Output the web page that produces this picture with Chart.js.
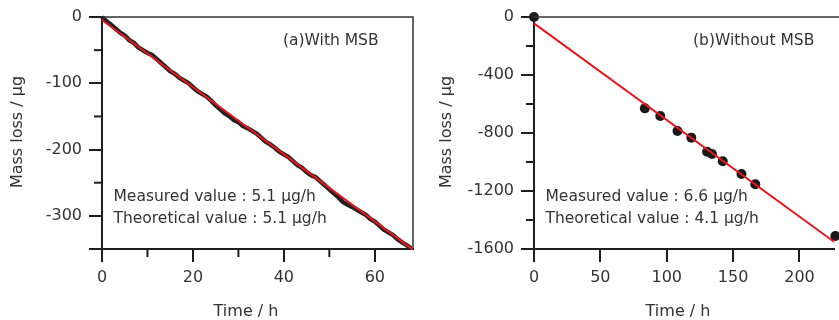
<!DOCTYPE html>
<html><head><meta charset="utf-8">
<script src="https://cdn.jsdelivr.net/npm/chart.js@4/dist/chart.umd.min.js"></script>
<style>
html,body{margin:0;padding:0;background:#fff;overflow:hidden;}
#wrap{position:relative;width:839px;height:320px;}
canvas{position:absolute;top:0;}
#ca{left:0;} #cb{left:420px;}
</style></head><body>
<div id="wrap"><canvas id="ca" width="420" height="320"></canvas><canvas id="cb" width="419" height="320"></canvas></div>
<script>
// ---- Panel (a) With MSB ----
const timeA = [0,1,2,3,4,5,6,7,8,9,10,11,12,13,14,15,16,17,18,19,20,21,22,23,24,25,26,27,28,29,30,31,32,33,34,35,36,37,38,39,40,41,42,43,44,45,46,47,48,49,50,51,52,53,54,55,56,57,58,59,60,61,62,63,64,65,66,67,68];
const massA = [0,-6.6,-11.6,-17.7,-23.8,-27.9,-34.9,-39.0,-46.1,-50.1,-54.2,-57.3,-63.3,-69.4,-75.5,-81.6,-85.6,-91.7,-95.8,-99.8,-105.9,-112.0,-116.0,-120.1,-126.2,-133.3,-139.3,-145.4,-149.5,-155.5,-158.6,-164.7,-167.7,-171.8,-175.9,-182.0,-188.0,-192.1,-197.2,-203.2,-207.3,-211.4,-217.4,-223.5,-227.6,-233.7,-238.7,-241.8,-247.9,-253.9,-260.0,-266.1,-272.1,-279.2,-283.3,-286.4,-290.4,-294.5,-298.6,-304.6,-308.7,-314.8,-320.8,-324.9,-329.0,-335.1,-340.1,-344.2,-349.3];
const fitTimeA = [0, 68.4];
const fitMassA = [-4.5, -351];
const xTicksA = [0,20,40,60];
const xMinorA = [10,30,50];
const yTicksA = [0,-100,-200,-300];
const yMinorA = [-50,-150,-250];
const labelA = '(a)With MSB';
const measuredA = 'Measured value : 5.1 \u00b5g/h';
const theoreticalA = 'Theoretical value : 5.1 \u00b5g/h';

// ---- Panel (b) Without MSB ----
const timeB = [0, 83.5, 95.1, 108.1, 118.5, 130.4, 134.1, 142.2, 156.3, 166.7, 227];
const massB = [0, -630, -683, -786, -832, -929, -945, -995, -1083, -1154, -1510];
const fitTimeB = [0, 226];
const fitMassB = [-44, -1550];
const xTicksB = [0,50,100,150,200];
const xMinorB = [];
const yTicksB = [0,-400,-800,-1200,-1600];
const yMinorB = [-200,-600,-1000,-1400];
const labelB = '(b)Without MSB';
const measuredB = 'Measured value : 6.6 \u00b5g/h';
const theoreticalB = 'Theoretical value : 4.1 \u00b5g/h';

const xTitle = 'Time / h';
const yTitle = 'Mass loss / \u00b5g';

Chart.defaults.font.family = "'DejaVu Sans', sans-serif";
Chart.defaults.color = '#333';

const AX = '#1e1e1e';
const RED = '#e8171d';

function pts(xs, ys){ return xs.map((v,i)=>({x:v, y:ys[i]})); }

const deco = {
  id:'deco',
  afterDraw(chart, args, o){
    const {ctx, chartArea:a, scales:{x,y}} = chart;
    ctx.save();
    // top / right frame
    ctx.strokeStyle = '#333'; ctx.lineWidth = 1.5;
    ctx.beginPath();
    ctx.moveTo(a.left, a.top); ctx.lineTo(o.openRight ? chart.width : a.right, a.top);
    if(!o.openRight){ ctx.lineTo(a.right, a.bottom); }
    ctx.stroke();
    // minor ticks + corner extension
    ctx.strokeStyle = AX; ctx.lineWidth = 2;
    o.minorX.forEach(v=>{ const p=x.getPixelForValue(v); ctx.beginPath(); ctx.moveTo(p,a.bottom); ctx.lineTo(p,a.bottom+8); ctx.stroke(); });
    o.minorY.forEach(v=>{ const p=y.getPixelForValue(v); ctx.beginPath(); ctx.moveTo(a.left,p); ctx.lineTo(a.left-8,p); ctx.stroke(); });
    ctx.beginPath(); ctx.moveTo(a.left-13, a.bottom); ctx.lineTo(a.left, a.bottom); ctx.stroke();
    // texts
    ctx.fillStyle = '#333';
    ctx.textBaseline = 'middle';
    ctx.font = "15.5px 'DejaVu Sans'";
    ctx.textAlign = 'left';
    ctx.fillText(o.label, a.left + o.labelDx, 41);
    ctx.fillText(o.measured, a.left + 11.5, 197);
    ctx.fillText(o.theoretical, a.left + 11.5, 219);
    ctx.font = "16px 'DejaVu Sans'";
    ctx.textAlign = 'center';
    ctx.fillText(xTitle, a.left + 144, 312);
    ctx.translate(a.left - o.yTitleDx, 132);
    ctx.rotate(-Math.PI/2);
    ctx.fillText(yTitle, 0, 0);
    ctx.restore();
  }
};

function makeChart(id, cfg){
  return new Chart(document.getElementById(id), {
    type:'scatter',
    data:{datasets: cfg.datasets},
    options:{
      responsive:false, animation:false, devicePixelRatio:1,
      layout:{padding:{left:0, right:cfg.padRight, top:17, bottom:0}},
      plugins:{legend:{display:false}, tooltip:{enabled:false}, deco: cfg.deco},
      scales:{
        x:{type:'linear', min:cfg.xMin, max:cfg.xMax,
           afterBuildTicks: s=>{ s.ticks = cfg.xTicks.map(v=>({value:v})); },
           afterFit: s=>{ s.height = 71; },
           ticks:{font:{size:16}, color:'#333', padding:6, maxRotation:0},
           grid:{drawOnChartArea:false, drawTicks:true, tickLength:13, color:AX, lineWidth:2},
           border:{display:true, color:AX, width:2}},
        y:{type:'linear', min:cfg.yMin, max:cfg.yMax,
           afterBuildTicks: s=>{ s.ticks = cfg.yTicks.map(v=>({value:v})); },
           afterFit: s=>{ s.width = cfg.yWidth; },
           ticks:{font:{size:16}, color:'#333', padding:7, callback:v=>String(v)},
           grid:{drawOnChartArea:false, drawTicks:true, tickLength:13, color:AX, lineWidth:2},
           border:{display:true, color:AX, width:2}}
      }
    },
    plugins:[deco]
  });
}

makeChart('ca', {
  xMin:0, xMax:68.4, yMin:-350, yMax:0, xTicks:xTicksA, yTicks:yTicksA, yWidth:102, padRight:7,
  datasets:[
    {data:pts(fitTimeA, fitMassA), showLine:true, borderColor:RED, borderWidth:2, pointRadius:0, order:0, clip:false},
    {data:pts(timeA, massA), showLine:true, borderColor:'#222', borderWidth:4.5, pointRadius:0, order:1, clip:false}
  ],
  deco:{minorX:xMinorA, minorY:yMinorA, openRight:false, label:labelA, labelDx:181, measured:measuredA, theoretical:theoreticalA, yTitleDx:84}
});

makeChart('cb', {
  xMin:0, xMax:226, yMin:-1600, yMax:0, xTicks:xTicksB, yTicks:yTicksB, yWidth:114, padRight:0,
  datasets:[
    {data:pts(fitTimeB, fitMassB), showLine:true, borderColor:RED, borderWidth:2, pointRadius:0, order:0, clip:false},
    {data:pts(timeB, massB), showLine:false, pointRadius:5, pointBackgroundColor:'#1a1a1a', pointBorderColor:'#1a1a1a', pointBorderWidth:0, order:1, clip:false}
  ],
  deco:{minorX:xMinorB, minorY:yMinorB, openRight:true, label:labelB, labelDx:159, measured:measuredB, theoretical:theoreticalB, yTitleDx:87}
});
</script>
</body></html>
